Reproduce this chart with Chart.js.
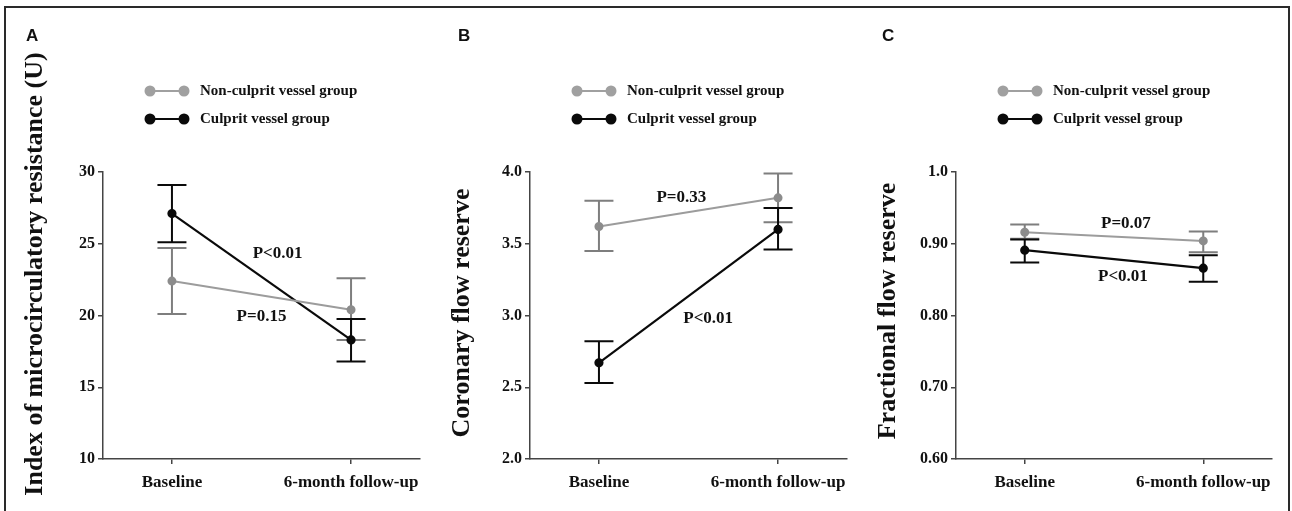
<!DOCTYPE html>
<html><head><meta charset="utf-8">
<script src="https://cdn.jsdelivr.net/npm/chart.js@4/dist/chart.umd.min.js"></script>
<style>
html,body{margin:0;padding:0;background:#fff;}
#wrap{position:relative;width:1292px;height:511px;overflow:hidden;background:#fff;}
#frame{position:absolute;left:4px;top:6px;width:1282px;height:600px;border:2px solid #2a2a2a;border-bottom:none;}
.pn{position:absolute;top:0;height:511px;}
</style></head><body>
<div id="wrap"><div id="frame"></div>
<div class="pn" style="left:0;width:430px"><canvas id="cA" width="430" height="511"></canvas></div>
<div class="pn" style="left:430px;width:430px"><canvas id="cB" width="430" height="511"></canvas></div>
<div class="pn" style="left:860px;width:432px"><canvas id="cC" width="432" height="511"></canvas></div>
</div>
<script>
// ---- data ----
const categories = ['Baseline', '6-month follow-up'];
const seriesNames = ['Non-culprit vessel group', 'Culprit vessel group'];

// Panel A: Index of microcirculatory resistance (U)
const imrNonMean = [22.4, 20.4];
const imrNonLow  = [20.1, 18.3];
const imrNonHigh = [24.7, 22.6];
const imrCulMean = [27.1, 18.3];
const imrCulLow  = [25.1, 16.8];
const imrCulHigh = [29.1, 19.75];
const imrTicks = [10, 15, 20, 25, 30];
const imrTickLabels = ['10', '15', '20', '25', '30'];

// Panel B: Coronary flow reserve
const cfrNonMean = [3.62, 3.82];
const cfrNonLow  = [3.45, 3.65];
const cfrNonHigh = [3.80, 3.99];
const cfrCulMean = [2.67, 3.60];
const cfrCulLow  = [2.53, 3.46];
const cfrCulHigh = [2.82, 3.75];
const cfrTicks = [2.0, 2.5, 3.0, 3.5, 4.0];
const cfrTickLabels = ['2.0', '2.5', '3.0', '3.5', '4.0'];

// Panel C: Fractional flow reserve
const ffrNonMean = [0.916, 0.904];
const ffrNonLow  = [0.907, 0.888];
const ffrNonHigh = [0.927, 0.917];
const ffrCulMean = [0.891, 0.866];
const ffrCulLow  = [0.874, 0.847];
const ffrCulHigh = [0.906, 0.884];
const ffrTicks = [0.6, 0.7, 0.8, 0.9, 1.0];
const ffrTickLabels = ['0.60', '0.70', '0.80', '0.90', '1.0'];

// ---- styling / layout ----
const GRAY_LINE = '#9c9c9c', GRAY_PT = '#8c8c8c', GRAY_ERR = '#7e7e7e', BLACK = '#0a0a0a';
const AXIS = '#444';
const SERIF = '"Liberation Serif", "Times New Roman", serif';
const SANS = '"Liberation Sans", Arial, sans-serif';

function makeChart(id, p) {
  const ctxEl = document.getElementById(id);
  const toPts = arr => arr.map((v, i) => ({x: i, y: v}));
  const deco = {
    id: 'deco_' + id,
    beforeDatasetsDraw(chart) {
      const xs = chart.scales.x, ys = chart.scales.y, ctx = chart.ctx;
      p.errors.forEach(e => {
        ctx.save();
        ctx.strokeStyle = e.color; ctx.lineWidth = 2;
        e.low.forEach((lo, i) => {
          const px = xs.getPixelForValue(i);
          const p1 = ys.getPixelForValue(lo), p2 = ys.getPixelForValue(e.high[i]);
          ctx.beginPath();
          ctx.moveTo(px, p1); ctx.lineTo(px, p2);
          ctx.moveTo(px - 14.5, p1); ctx.lineTo(px + 14.5, p1);
          ctx.moveTo(px - 14.5, p2); ctx.lineTo(px + 14.5, p2);
          ctx.stroke();
        });
        ctx.restore();
      });
    },
    afterDraw(chart) {
      const xs = chart.scales.x, ys = chart.scales.y, ctx = chart.ctx;
      const ax = chart.chartArea.left;
      ctx.save();
      // panel letter
      ctx.fillStyle = '#111';
      ctx.font = 'bold 17px ' + SANS;
      ctx.textAlign = 'left'; ctx.textBaseline = 'middle';
      ctx.fillText(p.letter, ax + p.letterDx, 36);
      // legend
      const rows = [{name: seriesNames[0], line: '#a0a0a0', dot: '#a0a0a0', y: 91},
                    {name: seriesNames[1], line: BLACK, dot: BLACK, y: 119}];
      rows.forEach(r => {
        ctx.strokeStyle = r.line; ctx.lineWidth = 2;
        ctx.beginPath(); ctx.moveTo(ax + 47, r.y); ctx.lineTo(ax + 81, r.y); ctx.stroke();
        ctx.fillStyle = r.dot;
        [ax + 47, ax + 81].forEach(cx => { ctx.beginPath(); ctx.arc(cx, r.y, 5.5, 0, Math.PI * 2); ctx.fill(); });
        ctx.fillStyle = '#111';
        ctx.font = 'bold 15px ' + SERIF;
        ctx.textAlign = 'left'; ctx.textBaseline = 'middle';
        ctx.fillText(r.name, ax + 97, r.y);
      });
      // y title
      ctx.save();
      ctx.translate(ax - 68, p.titleY);
      ctx.rotate(-Math.PI / 2);
      ctx.font = 'bold 26px ' + SERIF;
      ctx.fillStyle = '#111';
      ctx.textAlign = 'center'; ctx.textBaseline = 'middle';
      ctx.fillText(p.title, 0, 0);
      ctx.restore();
      // P labels
      ctx.font = 'bold 17px ' + SERIF;
      ctx.fillStyle = '#111';
      ctx.textAlign = 'center'; ctx.textBaseline = 'middle';
      p.notes.forEach(n => ctx.fillText(n.text, xs.getPixelForValue(n.x), ys.getPixelForValue(n.y)));
      ctx.restore();
    }
  };
  return new Chart(ctxEl, {
    type: 'line',
    data: {
      datasets: [
        {label: seriesNames[0], data: toPts(p.nonMean), borderColor: GRAY_LINE, backgroundColor: GRAY_PT,
         pointBackgroundColor: GRAY_PT, pointBorderColor: GRAY_PT, borderWidth: 2, pointRadius: 3.5, tension: 0},
        {label: seriesNames[1], data: toPts(p.culMean), borderColor: BLACK, backgroundColor: BLACK,
         pointBackgroundColor: BLACK, pointBorderColor: BLACK, borderWidth: 2.2, pointRadius: 3.5, tension: 0}
      ]
    },
    options: {
      responsive: false, animation: false,
      layout: {padding: {top: 172, right: p.padRight, left: 0, bottom: 0}},
      plugins: {legend: {display: false}, tooltip: {enabled: false}},
      scales: {
        x: {
          type: 'linear', min: -0.385, max: 1.385,
          afterBuildTicks: s => { s.ticks = categories.map((c, i) => ({value: i})); },
          afterFit: s => { s.height = 52; },
          ticks: {callback: (v, i) => categories[i], color: '#111', padding: 8, maxRotation: 0,
                  font: {family: SERIF, weight: 'bold', size: 17}},
          grid: {drawOnChartArea: false, drawTicks: true, tickLength: 5, color: AXIS, lineWidth: 1.5},
          border: {display: true, color: AXIS, width: 1.5}
        },
        y: {
          type: 'linear', min: p.ticks[0], max: p.ticks[p.ticks.length - 1],
          afterBuildTicks: s => { s.ticks = p.ticks.map(v => ({value: v})); },
          afterFit: s => { s.width = p.left; },
          ticks: {callback: (v, i) => p.tickLabels[i], color: '#111', padding: 3,
                  font: {family: SERIF, weight: 'bold', size: 16}},
          grid: {drawOnChartArea: false, drawTicks: true, tickLength: 5, color: AXIS, lineWidth: 1.5},
          border: {display: true, color: AXIS, width: 1.5}
        }
      }
    },
    plugins: [deco]
  });
}

makeChart('cA', {
  letter: 'A', letterDx: -77, left: 103, padRight: 10, titleY: 274,
  title: 'Index of microcirculatory resistance (U)',
  nonMean: imrNonMean, culMean: imrCulMean,
  ticks: imrTicks, tickLabels: imrTickLabels,
  errors: [{low: imrNonLow, high: imrNonHigh, color: GRAY_ERR}, {low: imrCulLow, high: imrCulHigh, color: BLACK}],
  notes: [{text: 'P<0.01', x: 0.59, y: 24.3}, {text: 'P=0.15', x: 0.50, y: 19.9}]
});
makeChart('cB', {
  letter: 'B', letterDx: -72, left: 100, padRight: 13, titleY: 313,
  title: 'Coronary flow reserve',
  nonMean: cfrNonMean, culMean: cfrCulMean,
  ticks: cfrTicks, tickLabels: cfrTickLabels,
  errors: [{low: cfrNonLow, high: cfrNonHigh, color: GRAY_ERR}, {low: cfrCulLow, high: cfrCulHigh, color: BLACK}],
  notes: [{text: 'P=0.33', x: 0.46, y: 3.82}, {text: 'P<0.01', x: 0.61, y: 2.98}]
});
makeChart('cC', {
  letter: 'C', letterDx: -74, left: 96, padRight: 20, titleY: 311,
  title: 'Fractional flow reserve',
  nonMean: ffrNonMean, culMean: ffrCulMean,
  ticks: ffrTicks, tickLabels: ffrTickLabels,
  errors: [{low: ffrNonLow, high: ffrNonHigh, color: GRAY_ERR}, {low: ffrCulLow, high: ffrCulHigh, color: BLACK}],
  notes: [{text: 'P=0.07', x: 0.567, y: 0.9275}, {text: 'P<0.01', x: 0.55, y: 0.854}]
});
</script>
</body></html>
